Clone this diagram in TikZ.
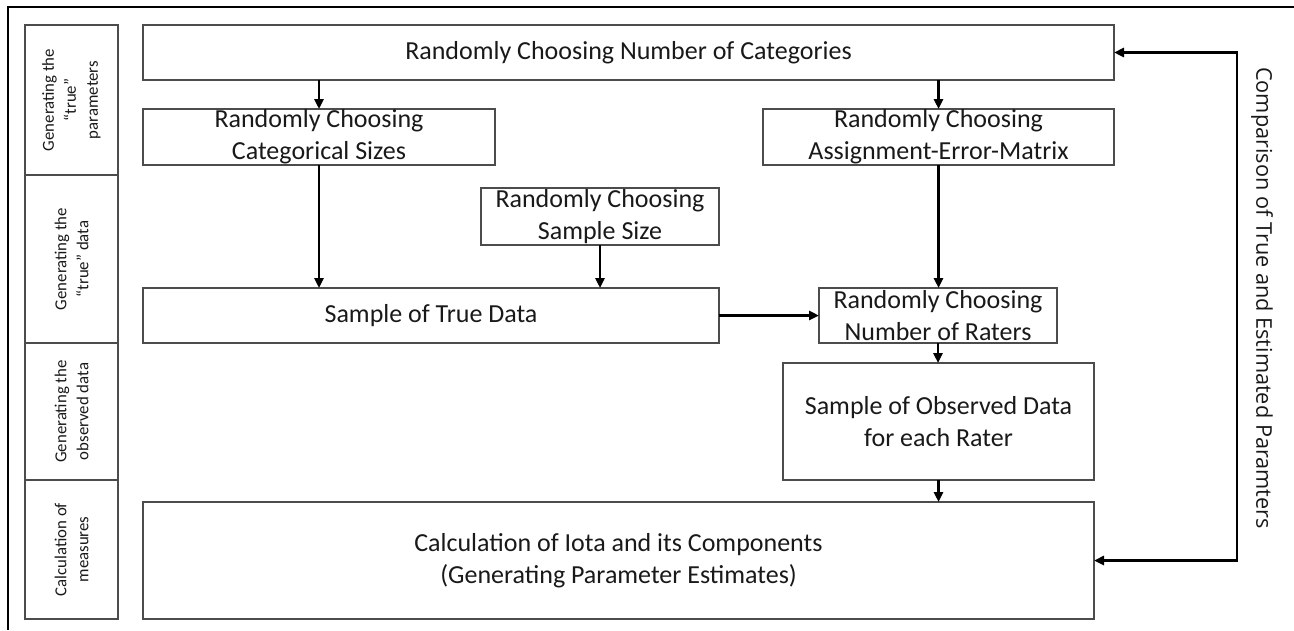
\documentclass[tikz,border=0pt]{standalone}
\usepackage{fontspec}
\setmainfont{Carlito}
\newfontfamily\sidefont{Open Sans}
\usetikzlibrary{arrows.meta}

\tikzset{
  stepbox/.style={draw=black!70, line width=1.2pt, inner sep=0pt, outer sep=0pt,
    align=center, text=black!90, font=\fontsize{26}{32}\selectfont},
  phase/.style={draw=black!70, line width=1.2pt, inner sep=0pt, outer sep=0pt,
    align=center, rotate=90, minimum height=93, text=black!90,
    font=\fontsize{16.8}{22}\selectfont},
  flow/.style={line width=2.7pt},
}

\begin{document}
\begin{tikzpicture}[x=1pt, y=-1pt, >={Triangle[length=10pt,width=9pt]}]
        \useasboundingbox (0,0) rectangle (1294,630);
        % outer frame
        \draw[line width=2pt] (1294,7) -- (8,7) -- (8,630);
        % phases on the left
        \node[phase, minimum width=150] (ph1) at (71.5,100) {Generating the\\“true”\\parameters};
        \node[phase, minimum width=168] (ph2) at (71.5,259) {Generating the\\“true” data};
        \node[phase, minimum width=137] (ph3) at (71.5,411.5) {Generating the\\observed data};
        \node[phase, minimum width=139] (ph4) at (71.5,549.5) {Calculation of\\measures};
        % simulation steps
        \node[stepbox, minimum width=971, minimum height=55] (cat) at (628.5,52.5) {Randomly Choosing Number of Categories};
        \node[stepbox, minimum width=352, minimum height=56] (sizes) at (319,137) {Randomly Choosing\\Categorical Sizes};
        \node[stepbox, minimum width=351, minimum height=56] (errmat) at (938.5,137) {Randomly Choosing\\Assignment-Error-Matrix};
        \node[stepbox, minimum width=238, minimum height=57] (ssize) at (600,216.5) {Randomly Choosing\\Sample Size};
        \node[stepbox, minimum width=576, minimum height=55] (truedata) at (431,315.5) {Sample of True Data};
        \node[stepbox, minimum width=238, minimum height=55] (raters) at (938,315.5) {Randomly Choosing\\Number of Raters};
        \node[stepbox, minimum width=311, minimum height=117] (observed) at (938.5,421.5) {Sample of Observed Data\\for each Rater};
        \node[stepbox, minimum width=951, minimum height=117] (iota) at (618.5,560.5) {Calculation of Iota and its Components\\(Generating Parameter Estimates)};
        % categories to sizes and matrix
        \draw[flow, ->] (cat.south -| sizes.north) -- (sizes.north);
        \draw[flow, ->] (cat.south -| errmat.north) -- (errmat.north);
        % into the true data
        \draw[flow, ->] (sizes.south) -- (sizes.south |- truedata.north);
        \draw[flow, ->] (ssize.south) -- (ssize.south |- truedata.north);
        % matrix and true data to raters
        \draw[flow, ->] (errmat.south) -- (errmat.south |- raters.north);
        \draw[flow, ->] (truedata.east) -- (raters.west);
        % raters to observed data to iota
        \draw[flow, ->] (raters.south) -- (raters.south |- observed.north);
        \draw[flow, ->] (observed.south) -- (observed.south |- iota.north);
        % comparison loop on the right
        \coordinate (turn) at (1237,52.5);
        \draw[flow, <->] (cat.east) -- (turn) |- (iota.east);
        \node[rotate=-90, text=black!90, font=\sidefont\fontsize{21.7}{26}\selectfont] (cmp) at (1262,298) {Comparison of True and Estimated Paramters};
    \end{tikzpicture}
\end{document}
